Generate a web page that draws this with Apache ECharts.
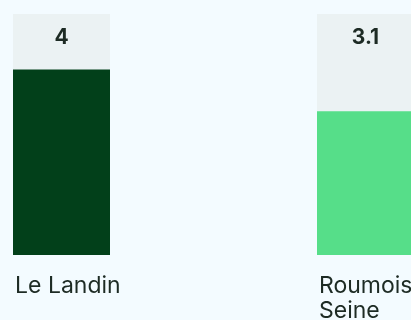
<!DOCTYPE html>
<html>
<head>
<meta charset="utf-8">
<script src="https://cdn.jsdelivr.net/npm/echarts@6/dist/echarts.min.js"></script>
<style>
  html, body { margin: 0; padding: 0; background: #f3fbff; }
  #chart { width: 411px; height: 320px; }
</style>
</head>
<body>
<div id="chart"></div>
<script>
// Communes and their scores
const categories = ['Le Landin', 'Roumois Seine'];
const values = [4, 3.1];
const barColors = ['#02401a', '#56de89'];
// Top of the scale: the pale track runs from 0 up to here
const yMax = 5.2;

const chart = echarts.init(document.getElementById('chart'), null, { renderer: 'canvas' });

chart.setOption({
  backgroundColor: '#f3fbff',
  animation: false,
  grid: { left: 61.5, right: 45.5, top: 14, bottom: 65, outerBoundsMode: 'none', containLabel: false },
  xAxis: {
    type: 'category',
    data: categories,
    boundaryGap: false,
    axisLine: { show: false },
    axisTick: { show: false },
    axisLabel: {
      interval: 0,
      align: 'left',
      margin: 19,
      padding: [0, 0, 0, -46.5],
      width: 125,
      overflow: 'break',
      hideOverlap: false,
      fontFamily: 'Inter',
      fontSize: 23,
      lineHeight: 25,
      color: '#1d2b24'
    }
  },
  yAxis: {
    type: 'value',
    min: 0,
    max: yMax,
    show: false
  },
  series: [
    {
      // pale track behind each bar, carrying the value label
      type: 'bar',
      data: categories.map(() => yMax),
      barWidth: 97,
      clip: false,
      silent: true,
      itemStyle: { color: '#ebf2f3' },
      label: {
        show: true,
        position: 'insideTop',
        distance: 13,
        formatter: (p) => String(values[p.dataIndex]),
        fontFamily: 'Inter',
        fontWeight: 'bold',
        fontSize: 21,
        color: '#1d2b24'
      }
    },
    {
      type: 'bar',
      data: values.map((v, i) => ({ value: v, itemStyle: { color: barColors[i] } })),
      barWidth: 97,
      barGap: '-100%',
      clip: false
    }
  ]
});
</script>
</body>
</html>
